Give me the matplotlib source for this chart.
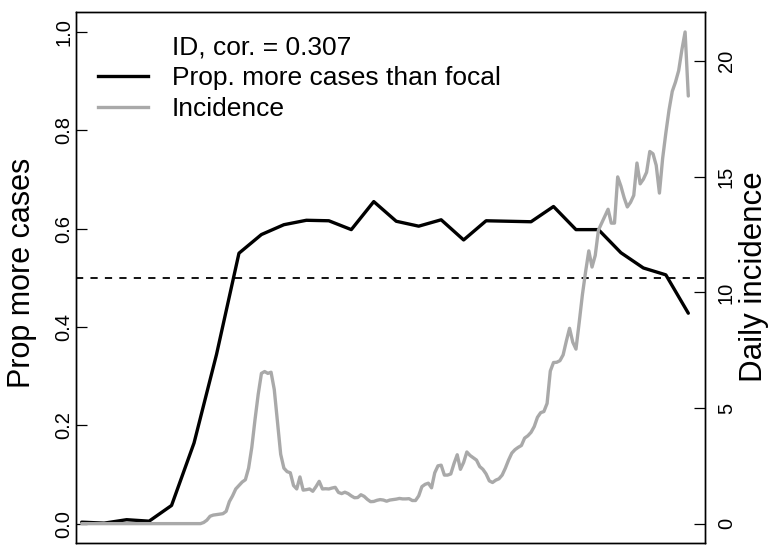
import numpy as np
import matplotlib
matplotlib.use('Agg')
import matplotlib.pyplot as plt
from matplotlib.lines import Line2D

plt.rcParams['font.family'] = ['Liberation Sans', 'DejaVu Sans']

# weekly proportion of places with more cases than the focal one (black)
prop_more = [0.003, 0.001, 0.008, 0.005, 0.037, 0.164, 0.344, 0.550,
             0.588, 0.608, 0.617, 0.616, 0.598, 0.655, 0.615, 0.605,
             0.618, 0.577, 0.616, 0.615, 0.614, 0.645, 0.598, 0.598,
             0.551, 0.520, 0.506, 0.428]
week_day = np.arange(0, 190, 7)

# daily incidence (grey)
incidence = [0.0] * 38 + [
    0.05, 0.15, 0.32, 0.37, 0.39, 0.41, 0.43, 0.53, 0.95, 1.2, 1.5, 1.65,
    1.8, 1.9, 2.4, 3.3, 4.5, 5.6, 6.5, 6.58, 6.5, 6.55,
    5.8, 4.4, 3.0, 2.4, 2.25, 2.2, 1.65, 1.5, 2.02, 1.45,
    1.47, 1.5, 1.4, 1.6, 1.83, 1.5, 1.51, 1.5, 1.54, 1.57,
    1.35, 1.3, 1.36, 1.3, 1.2, 1.12, 1.13, 1.25, 1.18, 1.05,
    0.95, 0.96, 1.01, 1.04, 1.02, 0.97, 1.02, 1.04, 1.06, 1.09,
    1.07, 1.07, 1.08, 1.0, 1.0, 1.2, 1.6, 1.7, 1.75, 1.55,
    2.2, 2.5, 2.53, 2.1, 2.1, 2.15, 2.6, 2.98, 2.35, 2.65,
    3.1, 2.95, 2.85, 2.75, 2.47, 2.35, 2.15, 1.85, 1.78, 1.88,
    1.94, 2.1, 2.4, 2.75, 3.05, 3.2, 3.3, 3.38, 3.7, 3.8,
    3.95, 4.2, 4.6, 4.8, 4.85, 5.2, 6.6, 6.97, 6.98, 7.05,
    7.3, 7.9, 8.45, 7.85, 7.55, 8.7, 9.9, 10.9, 11.8, 11.1,
    11.6, 12.7, 13.0, 13.3, 13.6, 13.0, 13.0, 15.0, 14.6, 14.1,
    13.7, 13.9, 14.2, 15.6, 14.7, 14.9, 15.2, 16.1, 16.0, 15.5,
    14.3, 15.8, 16.9, 17.9, 18.7, 19.1, 19.6, 20.5, 21.27, 18.5]
day = np.arange(len(incidence))

left_ticks = [0.0, 0.2, 0.4, 0.6, 0.8, 1.0]
right_ticks = [0, 5, 10, 15, 20]

W, H = 768, 545
fig = plt.figure(figsize=(W / 100, H / 100), dpi=100)
ax = fig.add_axes([76.3 / W, 1 - 543.3 / H, (705 - 76.3) / W, (543.3 - 12.3) / H])

ax.plot(week_day, prop_more, color='black', lw=2.4,
        solid_joinstyle='round', solid_capstyle='round', zorder=3)
ax.axhline(0.5, color='black', lw=1.3, dashes=(4, 4), zorder=2)
ax.set_xlim(-1.68, 194.2)
ax.set_ylim(-0.04, 1.04)
ax.set_xticks([])
ax.set_yticks(left_ticks)
ax.set_yticklabels(['%.1f' % t for t in left_ticks])
ax.tick_params(axis='y', direction='in', length=8, width=0.9,
               labelsize=14.5, pad=2, labelrotation=90)
for lab in ax.get_yticklabels():
    lab.set_va('center')

ax2 = ax.twinx()
ax2.plot(day, incidence, color='#A9A9A9', lw=2.4,
         solid_joinstyle='round', solid_capstyle='round', zorder=3)
inc_max = max(incidence)
ax2.set_ylim(-0.04 * inc_max, 1.04 * inc_max)
ax2.set_yticks(right_ticks)
ax2.set_yticklabels([str(t) for t in right_ticks])
ax2.tick_params(axis='y', direction='in', length=8, width=0.9,
                labelsize=14.5, pad=8.5, labelrotation=90)
for lab in ax2.get_yticklabels():
    lab.set_va('center')

for a in (ax, ax2):
    for s in a.spines.values():
        s.set_linewidth(1.0)

# axis titles
fig.text(22 / W, 1 - 272.5 / H, 'Prop more cases', rotation=90,
         fontsize=22, ha='center', va='center')
fig.text(754 / W, 1 - 276.5 / H, 'Daily incidence', rotation=90,
         fontsize=22.5, ha='center', va='center')

# legend drawn by hand, R style
fig.add_artist(Line2D([98.3 / W, 148.3 / W], [1 - 76 / H] * 2,
                      color='black', lw=2.4))
fig.add_artist(Line2D([98.3 / W, 148.3 / W], [1 - 107.3 / H] * 2,
                      color='#A9A9A9', lw=2.4))
fig.text(171.7 / W, 1 - 54.3 / H, 'ID, cor. = 0.307', fontsize=19, va='baseline')
fig.text(171.7 / W, 1 - 85.3 / H, 'Prop. more cases than focal', fontsize=19, va='baseline')
fig.text(171.7 / W, 1 - 116.3 / H, 'Incidence', fontsize=19, va='baseline')

fig.savefig('out.png', dpi=100)
